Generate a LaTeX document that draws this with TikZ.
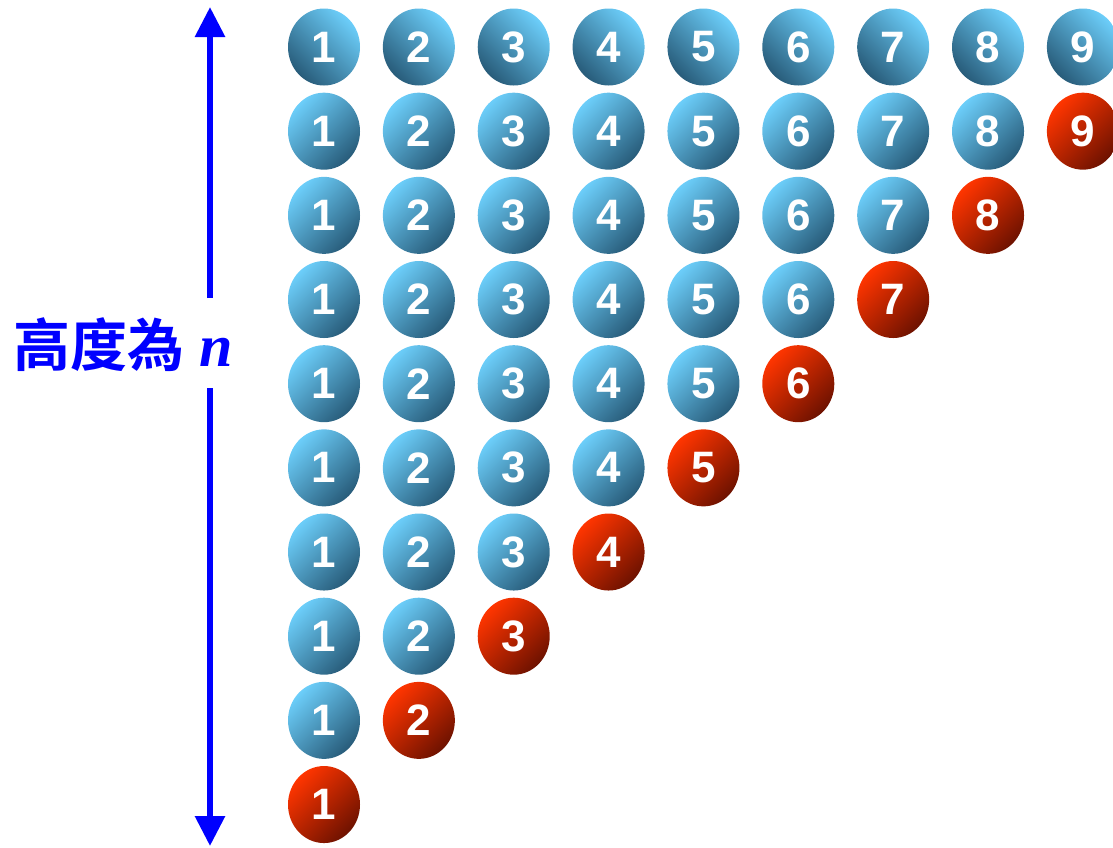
\documentclass[tikz,border=0pt]{standalone}
\usepackage{fontspec}
\setmainfont{Liberation Sans}
\newfontfamily\cjk{Noto Sans CJK TC Bold}
\newfontfamily\timesf{Liberation Serif}
\usetikzlibrary{shapes.geometric,arrows.meta}
\definecolor{bl}{HTML}{6CCEFA}
\definecolor{bd}{HTML}{285C7A}
\definecolor{rl}{HTML}{FF3500}
\definecolor{rd}{HTML}{6E1200}
\begin{document}
\begin{tikzpicture}[x=1pt,y=-1pt,
  ball/.style={ellipse, minimum width=72pt, minimum height=77pt, inner sep=0pt, text=white, font=\fontsize{44}{44}\selectfont\bfseries},
  blueball/.style={ball, top color=bl, bottom color=bd, shading angle=45},
  topball/.style={ball, top color=bl, bottom color=bd, shading angle=-45},
  redball/.style={ball, top color=rl, bottom color=rd, shading angle=45},
  arr/.style={draw=blue, line width=6pt, -{Triangle[length=30pt,width=29pt]}}]
\useasboundingbox (0,0) rectangle (1113,847);
% top row
\foreach \c in {1,...,9}
  \node[topball] (b1-\c) at ({324+94.86*(\c-1)},47) {\c};
% other rows
\foreach \r in {2,...,10}{
  \pgfmathtruncatemacro{\nn}{11-\r}
  \pgfmathtruncatemacro{\mm}{10-\r}
  \ifnum\mm>0
    \foreach \c in {1,...,\mm}
      \node[blueball] (b\r-\c) at ({324+94.86*(\c-1)},{47+84.17*(\r-1)}) {\c};
  \fi
  \node[redball] (b\r-\nn) at ({324+94.86*(\nn-1)},{47+84.17*(\r-1)}) {\nn};
}
% label and arrows
\node[anchor=base west, text=blue, inner sep=0pt, font=\cjk\fontsize{57}{57}\selectfont] (lbl) at (13,366) {高度為};
\node[anchor=base west, text=blue, inner sep=0pt, font=\timesf\bfseries\itshape\fontsize{60}{60}\selectfont] (nvar) at (199,366) {n};
\coordinate (top) at (210,7);
\coordinate (gt) at (210,298);
\coordinate (gb) at (210,388);
\coordinate (bot) at (210,846);
\draw[arr] (gt) -- (top);
\draw[arr] (gb) -- (bot);
\end{tikzpicture}
\end{document}
